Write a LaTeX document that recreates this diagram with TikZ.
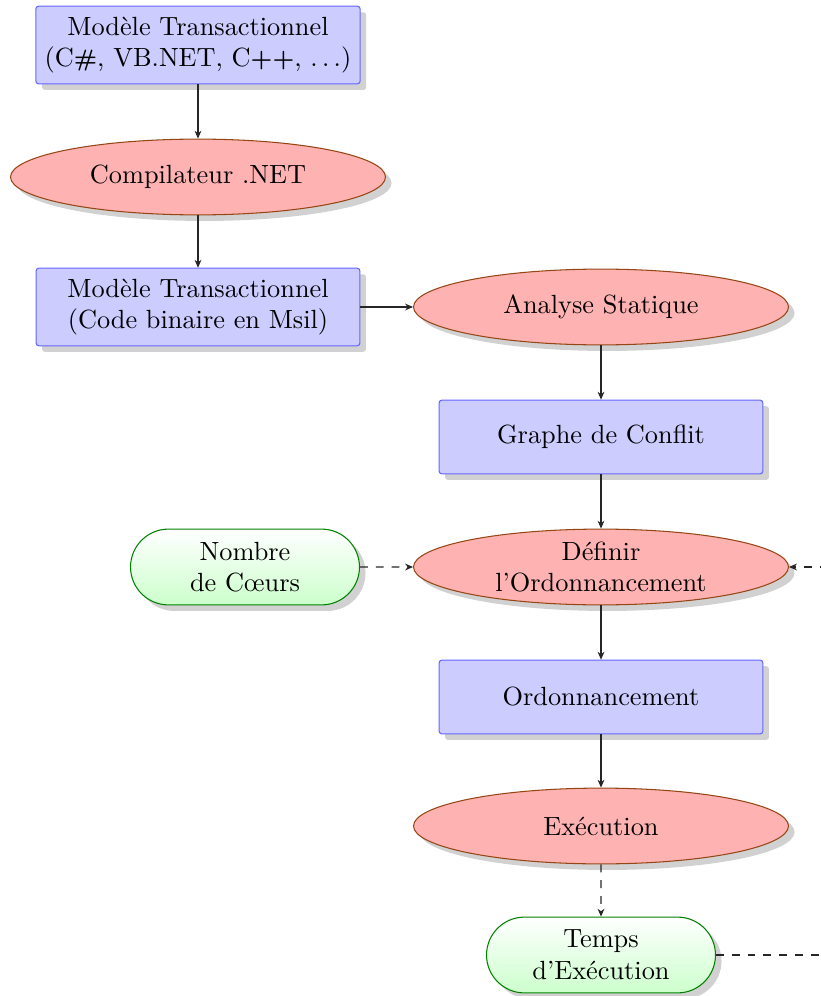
\documentclass[tikz,border=0pt]{standalone}
\usetikzlibrary{shapes.geometric,shapes.misc,shadows,arrows.meta}

\definecolor{ellborder}{RGB}{150,70,20}
\definecolor{termborder}{RGB}{0,130,0}

\tikzset{
  procbox/.style={rectangle, draw=blue!60, fill=blue!20, rounded corners=1pt,
    minimum width=123pt, minimum height=28pt, inner ysep=4pt, align=center,
    drop shadow={shadow xshift=2.3pt, shadow yshift=-2.3pt, fill=black!18, opacity=1}},
  actell/.style={ellipse, draw=ellborder, fill=red!30, inner sep=0pt,
    minimum width=142.5pt, minimum height=28.8pt, align=center,
    drop shadow={shadow xshift=2.3pt, shadow yshift=-2.3pt, fill=black!18, opacity=1}},
  termnode/.style={rounded rectangle, draw=termborder, top color=white, bottom color=green!20,
    minimum width=89pt, minimum height=28.8pt, inner sep=1pt, align=center,
    drop shadow={shadow xshift=2.3pt, shadow yshift=-2.3pt, fill=black!18, opacity=1}},
  flow/.style={draw=black!85, -{Stealth[length=3pt,width=2.6pt]}},
  dflow/.style={flow, dashed},
}

\begin{document}
\begin{tikzpicture}[x=0.38pt, y=-0.38pt]
  \useasboundingbox (0,0) rectangle (820,996);

  \node[procbox] (src) at (198,45) {Modèle Transactionnel\\(C{\small\bfseries\#}, VB.NET, C{\small\bfseries++}, $\ldots$)};
  \node[actell] (comp) at (198,177) {Compilateur .NET};
  \node[procbox] (msil) at (198,307) {Modèle Transactionnel\\(Code binaire en Msil)};
  \node[actell] (stat) at (601,307) {Analyse Statique};
  \node[procbox] (graphe) at (601,437) {Graphe de Conflit};
  \node[termnode] (coeurs) at (245,567) {Nombre\\de Cœurs};
  \node[actell] (def) at (601,567) {Définir\\l'Ordonnancement};
  \node[procbox] (ordo) at (601,697) {Ordonnancement};
  \node[actell] (exec) at (601,826) {Exécution};
  \node[termnode] (temps) at (601,955) {Temps\\d'Exécution};

  \coordinate (loop) at (870,567);

  \draw[flow] (src) -- (comp);
  \draw[flow] (comp) -- (msil);
  \draw[flow] (msil) -- (stat);
  \draw[flow] (stat) -- (graphe);
  \draw[flow] (graphe) -- (def);
  \draw[dflow] (coeurs) -- (def);
  \draw[flow] (def) -- (ordo);
  \draw[flow] (ordo) -- (exec);
  \draw[dflow] (exec) -- (temps);
  \draw[dflow] (temps.east) -| (loop) -- (def.east);
\end{tikzpicture}
\end{document}
